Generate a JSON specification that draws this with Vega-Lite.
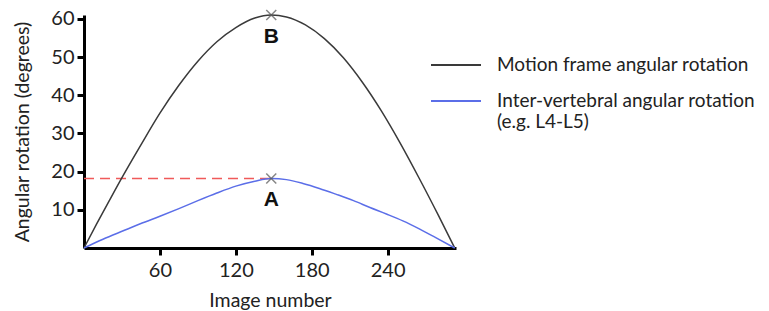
{
  "$schema": "https://vega.github.io/schema/vega-lite/v6.json",
  "width": 372,
  "height": 233,
  "autosize": {"type": "none"},
  "padding": {"left": 84, "top": 15, "right": 313, "bottom": 63},
  "background": "white",
  "config": {
    "view": {"stroke": null},
    "font": "Lato",
    "axis": {
      "grid": false,
      "domainColor": "black",
      "domainWidth": 3,
      "tickColor": "black",
      "tickWidth": 3,
      "tickSize": 7,
      "labelFont": "Lato",
      "labelFontSize": 20,
      "labelColor": "#222222",
      "titleFont": "Lato",
      "titleFontSize": 19.5,
      "titleFontWeight": "normal",
      "titleColor": "#222222"
    },
    "legend": {
      "labelFont": "Lato",
      "labelFontSize": 19,
      "labelColor": "#222222",
      "labelLimit": 400
    }
  },
  "datasets": {
    "curves": [
      {"image": 0, "angle": 0, "series": "Motion frame angular rotation"},
      {"image": 10, "angle": 6.3, "series": "Motion frame angular rotation"},
      {"image": 20, "angle": 12.4, "series": "Motion frame angular rotation"},
      {"image": 31, "angle": 19, "series": "Motion frame angular rotation"},
      {"image": 45, "angle": 27, "series": "Motion frame angular rotation"},
      {"image": 60, "angle": 35.3, "series": "Motion frame angular rotation"},
      {"image": 75, "angle": 42.6, "series": "Motion frame angular rotation"},
      {"image": 90, "angle": 48.9, "series": "Motion frame angular rotation"},
      {"image": 105, "angle": 54, "series": "Motion frame angular rotation"},
      {"image": 120, "angle": 57.7, "series": "Motion frame angular rotation"},
      {"image": 135, "angle": 60.2, "series": "Motion frame angular rotation"},
      {"image": 148, "angle": 61, "series": "Motion frame angular rotation"},
      {"image": 160, "angle": 60.5, "series": "Motion frame angular rotation"},
      {"image": 175, "angle": 58.4, "series": "Motion frame angular rotation"},
      {"image": 190, "angle": 54.8, "series": "Motion frame angular rotation"},
      {"image": 205, "angle": 49.8, "series": "Motion frame angular rotation"},
      {"image": 220, "angle": 43.4, "series": "Motion frame angular rotation"},
      {"image": 235, "angle": 35.9, "series": "Motion frame angular rotation"},
      {"image": 250, "angle": 27.4, "series": "Motion frame angular rotation"},
      {"image": 265, "angle": 18.2, "series": "Motion frame angular rotation"},
      {"image": 280, "angle": 8.6, "series": "Motion frame angular rotation"},
      {"image": 293, "angle": 0, "series": "Motion frame angular rotation"},
      {"image": 0, "angle": 0, "series": "Inter-vertebral angular rotation"},
      {"image": 15, "angle": 2.3, "series": "Inter-vertebral angular rotation"},
      {"image": 31, "angle": 4.5, "series": "Inter-vertebral angular rotation"},
      {"image": 45, "angle": 6.4, "series": "Inter-vertebral angular rotation"},
      {"image": 60, "angle": 8.3, "series": "Inter-vertebral angular rotation"},
      {"image": 75, "angle": 10.3, "series": "Inter-vertebral angular rotation"},
      {"image": 90, "angle": 12.4, "series": "Inter-vertebral angular rotation"},
      {"image": 105, "angle": 14.4, "series": "Inter-vertebral angular rotation"},
      {"image": 120, "angle": 16.2, "series": "Inter-vertebral angular rotation"},
      {"image": 135, "angle": 17.5, "series": "Inter-vertebral angular rotation"},
      {"image": 148, "angle": 18.2, "series": "Inter-vertebral angular rotation"},
      {"image": 160, "angle": 17.9, "series": "Inter-vertebral angular rotation"},
      {"image": 173, "angle": 16.9, "series": "Inter-vertebral angular rotation"},
      {"image": 186, "angle": 15.6, "series": "Inter-vertebral angular rotation"},
      {"image": 199, "angle": 14.1, "series": "Inter-vertebral angular rotation"},
      {"image": 213, "angle": 12.4, "series": "Inter-vertebral angular rotation"},
      {"image": 226, "angle": 10.6, "series": "Inter-vertebral angular rotation"},
      {"image": 239, "angle": 8.9, "series": "Inter-vertebral angular rotation"},
      {"image": 252, "angle": 7.1, "series": "Inter-vertebral angular rotation"},
      {"image": 265, "angle": 5, "series": "Inter-vertebral angular rotation"},
      {"image": 278, "angle": 2.7, "series": "Inter-vertebral angular rotation"},
      {"image": 293, "angle": 0, "series": "Inter-vertebral angular rotation"}
    ],
    "peaks": [
      {"image": 148, "angle": 61, "label": "B"},
      {"image": 148, "angle": 18.2, "label": "A"}
    ],
    "guide": [
      {"start": 0, "end": 148, "angle": 18.2}
    ]
  },
  "layer": [
    {
      "data": {"name": "guide"},
      "mark": {"type": "rule", "color": "#f05a5a", "strokeWidth": 1.6, "strokeDash": [10, 6]},
      "encoding": {
        "x": {"field": "start", "type": "quantitative"},
        "x2": {"field": "end"},
        "y": {"field": "angle", "type": "quantitative"}
      }
    },
    {
      "data": {"name": "curves"},
      "mark": {"type": "line", "strokeWidth": 1.5, "interpolate": "monotone"},
      "encoding": {
        "x": {
          "field": "image",
          "type": "quantitative",
          "scale": {"domain": [0, 294], "nice": false, "zero": false},
          "axis": {"values": [60, 120, 180, 240], "title": "Image number", "labelPadding": 5, "titlePadding": 11}
        },
        "y": {
          "field": "angle",
          "type": "quantitative",
          "scale": {"domain": [0, 61], "nice": false},
          "axis": {"values": [10, 20, 30, 40, 50, 60], "title": "Angular rotation (degrees)", "labelPadding": 3, "titlePadding": 18}
        },
        "color": {
          "field": "series",
          "type": "nominal",
          "sort": null,
          "scale": {
            "domain": ["Motion frame angular rotation", "Inter-vertebral angular rotation"],
            "range": ["#3a3a3a", "#5b6ee8"]
          },
          "legend": {
            "title": null,
            "orient": "none",
            "legendX": 346,
            "legendY": 24,
            "symbolType": "stroke",
            "symbolSize": 2500,
            "symbolStrokeWidth": 2,
            "labelOffset": 15,
            "rowPadding": -20,
            "labelLineHeight": 24,
            "labelBaseline": "middle",
            "labelExpr": "datum.label == 'Inter-vertebral angular rotation' ? ['Inter-vertebral angular rotation', '(e.g. L4-L5)'] : datum.label"
          }
        }
      }
    },
    {
      "data": {"name": "peaks"},
      "mark": {"type": "point", "shape": "M-1,-1L1,1M-1,1L1,-1", "filled": false, "size": 100, "strokeWidth": 1.5, "color": "#555555"},
      "encoding": {
        "x": {"field": "image", "type": "quantitative"},
        "y": {"field": "angle", "type": "quantitative"}
      }
    },
    {
      "data": {"name": "peaks"},
      "mark": {"type": "text", "dy": 22, "fontSize": 21, "fontWeight": "bold", "font": "Liberation Sans", "color": "#111111"},
      "encoding": {
        "x": {"field": "image", "type": "quantitative"},
        "y": {"field": "angle", "type": "quantitative"},
        "text": {"field": "label"}
      }
    }
  ]
}
